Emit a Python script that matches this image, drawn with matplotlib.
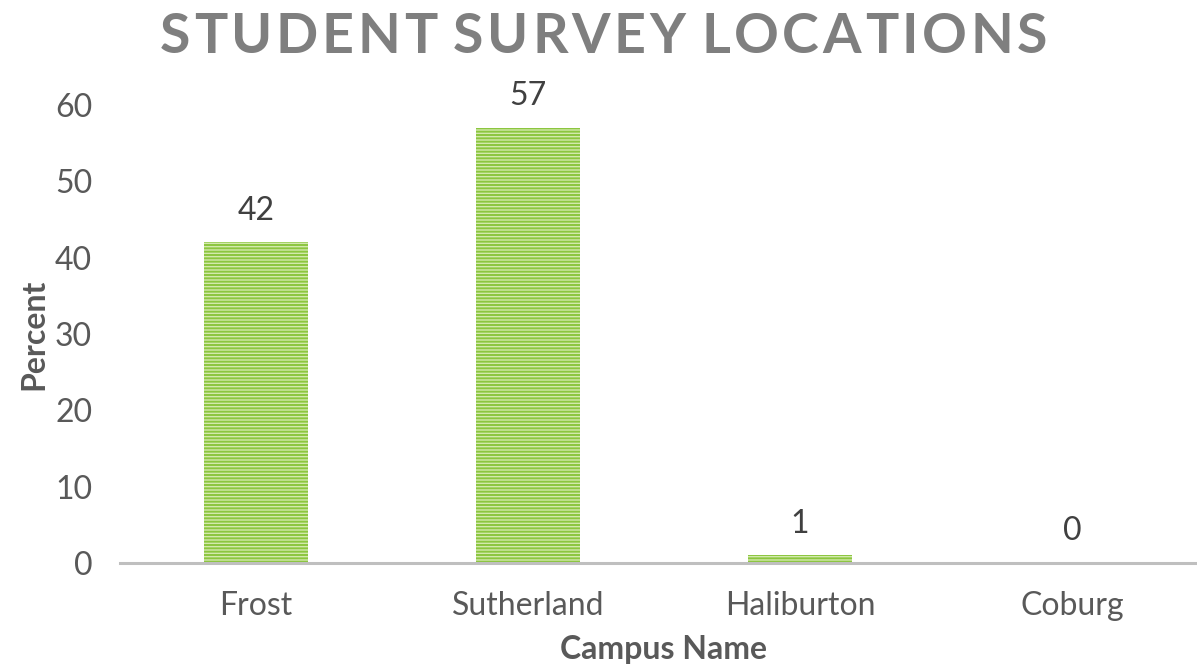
import matplotlib.pyplot as plt

# chart data
campuses = ["Frost", "Sutherland", "Haliburton", "Coburg"]
percents = [42, 57, 1, 0]
yticks = [0, 10, 20, 30, 40, 50, 60]
title = "STUDENT SURVEY LOCATIONS"

plt.rcParams['font.family'] = ['Lato', 'DejaVu Sans']
plt.rcParams['hatch.linewidth'] = 1.4
plt.rcParams['hatch.color'] = '#8cc63f'

fig = plt.figure(figsize=(11.97, 6.67), dpi=100)
ax = fig.add_axes([120 / 1197, 104 / 667, 1088 / 1197, 458 / 667])

x = range(len(campuses))
ax.bar(x, percents, width=0.38, color='#d3e9ad', edgecolor='#8cc63f',
       linewidth=0, hatch='-----')

for xi, v in zip(x, percents):
    ax.text(xi, v + 2.2, str(v), ha='center', va='bottom', fontsize=23, color='#404040')

ax.set_xlim(-0.5, 3.5)
ax.set_ylim(0, 60)
ax.set_yticks(yticks)
ax.set_xticks(list(x))
ax.set_xticklabels(campuses)
ax.tick_params(axis='both', length=0, labelsize=23, labelcolor='#595959')
ax.tick_params(axis='x', pad=20)
ax.tick_params(axis='y', pad=20)

for s in ['top', 'right', 'left']:
    ax.spines[s].set_visible(False)
ax.spines['bottom'].set_color('#bfbfbf')
ax.spines['bottom'].set_linewidth(2.2)

ax.set_xlabel('Campus Name', fontsize=23, fontweight='bold', color='#595959', labelpad=10)
ax.set_ylabel('Percent', fontsize=23, fontweight='bold', color='#595959', labelpad=5)

# letter-spaced title: place each character by hand
renderer = fig.canvas.get_renderer()
tkw = dict(fontsize=40, fontweight='bold', color='#7f7f7f', va='center', ha='left')
widths = []
for ch in title:
    t = fig.text(0, 0, ch if ch != ' ' else 'I', **tkw)
    w = t.get_window_extent(renderer).width
    widths.append(w * 0.55 if ch == ' ' else w)
    t.remove()
left, right = 160, 1047
gap = (right - left - sum(widths)) / (len(title) - 1)
xpos = left
for ch, w in zip(title, widths):
    if ch != ' ':
        fig.text(xpos / 1197, 1 - 37 / 667, ch, **tkw)
    xpos += w + gap

fig.savefig('out.png', dpi=100)
